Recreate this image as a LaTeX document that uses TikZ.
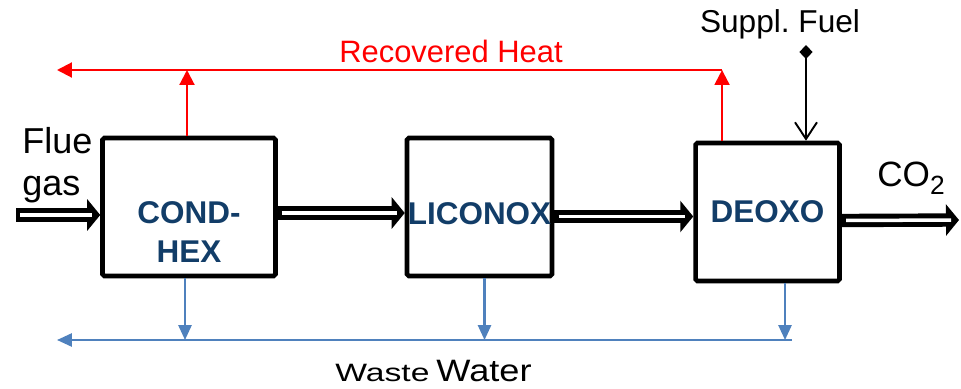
\documentclass[tikz,border=0pt]{standalone}
\usepackage{fontspec}
\setmainfont{Liberation Sans}
\usetikzlibrary{arrows.meta, positioning}
\definecolor{unitblue}{HTML}{123D68}
\definecolor{waterblue}{HTML}{4F81BD}

\begin{document}
\begin{tikzpicture}[
  x=0.02cm, y=-0.02cm,
  unit/.style={draw, line width=2.6pt, rounded corners=1pt, inner sep=0pt,
               minimum height=2.76cm},
  unittext/.style={align=center, text=unitblue, inner sep=0pt,
                   font=\fontsize{17.9}{22.2}\selectfont\bfseries},
  flow/.style={line width=7.6pt, -{Triangle[length=7.4pt, width=17.6pt]},
               postaction={draw=white, line width=2pt, -,
                           shorten <=2.4pt, shorten >=4.5pt}},
  heat/.style={draw=red, line width=1.2pt, -{Triangle[length=8.5pt, width=8.5pt]}},
  water/.style={draw=waterblue, line width=1.2pt, -{Triangle[length=8.5pt, width=7.5pt]}},
  fuel/.style={line width=1.1pt,
               {Diamond[length=8pt, width=7.5pt]}-{Straight Barb[length=9.5pt, width=12.5pt]}},
  lbl/.style={inner sep=0pt, anchor=base}
]
\useasboundingbox (0,0) rectangle (961,389);

% process units
\node[unit, minimum width=3.46cm,
      label={[unittext, yshift=-0.51cm]center:COND-\\HEX}] (condhex) at (189,207) {};
\node[unit, minimum width=2.9cm, right=2.54cm of condhex,
      label={[unittext, yshift=-0.14cm]center:LICONOX}] (liconox) {};
\node[unit, minimum width=2.88cm, right=2.78cm of liconox, yshift=-0.1cm,
      label={[unittext]center:DEOXO}] (deoxo) {};

% free ends
\coordinate (flue in)   at (16,215);
\coordinate (co2 out)   at (959,220);
\coordinate (heat end)  at (57,70);
\coordinate (water end) at (57,340);
\coordinate (water start) at (792,340);
\coordinate (fuel start)  at (806,45);
\coordinate (heat turn) at ([xshift=-0.91cm]deoxo.north |- heat end);

% main gas stream
\draw[flow] (flue in) -- (flue in -| condhex.west);
\draw[flow] ([yshift=-0.12cm]condhex.east) -- ([yshift=-0.12cm]condhex.east -| liconox.west);
\draw[flow] ([yshift=-0.19cm]liconox.east) -- ([yshift=-0.19cm]liconox.east -| deoxo.west);
\draw[flow] ([yshift=-0.17cm]deoxo.east) -- (co2 out);

% recovered heat
\draw[heat] ([xshift=-0.04cm]condhex.north) -- ([xshift=-0.04cm]condhex.north |- heat end);
\draw[heat] ([xshift=-0.91cm]deoxo.north) -- (heat turn);
\draw[heat] (heat turn) -- (heat end);

% supplementary fuel
\draw[fuel] (fuel start) -- (fuel start |- deoxo.north);

% waste water
\draw[water] ([xshift=-0.08cm]condhex.south) -- ([xshift=-0.08cm]condhex.south |- water end);
\draw[water] ([xshift=0.1cm]liconox.south) -- ([xshift=0.1cm]liconox.south |- water end);
\draw[water] ([xshift=0.35cm]deoxo.south) -- ([xshift=0.35cm]deoxo.south |- water end);
\draw[water] (water start) -- (water end);

% stream labels
\node[lbl, anchor=north west, align=left, font=\fontsize{20.5}{24}\selectfont]
  (fluelbl) at (22,127) {Flue\\gas};
\node[lbl, text=red, font=\fontsize{17.6}{20}\selectfont] (heatlbl) at (451,62) {Recovered Heat};
\node[lbl, font=\fontsize{18}{20}\selectfont] (fuellbl) at (780,32) {Suppl.\ Fuel};
\node[lbl, anchor=base west, font=\fontsize{20}{22}\selectfont] (co2lbl) at (877,186)
  {CO\raisebox{-5pt}{\fontsize{15}{15}\selectfont 2}};
\node[lbl, anchor=base west] (waterlbl) at (335,381)
  {\fontsize{14.3}{16}\selectfont\scalebox{1.34}[1]{Waste} \fontsize{17.6}{20}\selectfont\scalebox{1.17}[1]{Water}};
\end{tikzpicture}
\end{document}
